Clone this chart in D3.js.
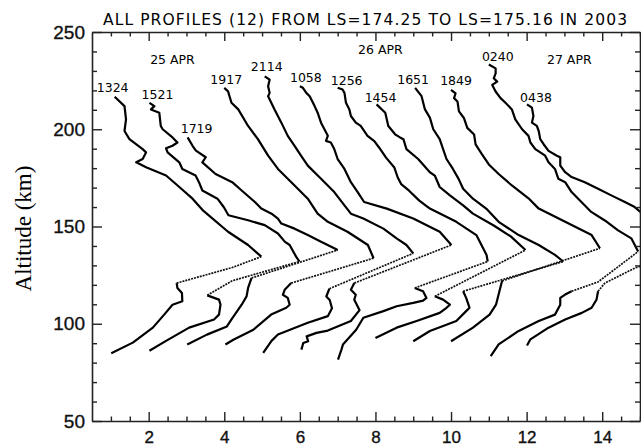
<!DOCTYPE html>
<html>
<head>
<meta charset="utf-8">
<script src="https://cdn.jsdelivr.net/npm/d3@7"></script>
<style>
  body { margin: 0; background: #fff; }
  svg { display: block; }
</style>
</head>
<body>
<svg id="chart" width="641" height="447"></svg>
<script>
// ---- data: electron-density profiles, each shifted right by its offset ----
const times   = ["1324","1521","1719","1917","2114","1058","1256","1454","1651","1849","0240","0438"];
const offsets = [1,2,3,4,5,6,7,8,9,10,11,12];
const dates   = ["25 APR","26 APR","27 APR"];
const dateX   = [2.63, 8.13, 13.13];
const dateAlt = [233.7, 238.8, 233.7];
const xTicks  = [2,4,6,8,10,12,14];
const yTicks  = [50,100,150,200,250];

// [density, altitude km], bottom to top
const p1324 = [[0.01,84.8],[0.58,90.3],[1.11,98.0],[1.41,104.7],[1.63,109.8],[1.89,111.6],[1.88,115.8],[1.76,118.4],[1.74,120.9],[3.21,128.9],[3.98,134.5],[3.63,140.5],[3.1,147.3],[2.45,158.0],[2.16,164.3],[1.81,170.3],[1.46,176.2],[0.93,180.5],[0.67,183.0],[0.84,184.7],[0.93,188.1],[0.84,189.8],[0.49,194.9],[0.36,199.1],[0.4,205.1],[0.36,211.9],[0.1,216.7]];
const p1521 = [[0.02,86.1],[0.46,91.2],[1.07,98.0],[1.73,102.2],[1.86,104.7],[1.9,109.8],[1.86,112.4],[1.55,114.6],[2.21,122.1],[3.99,132.0],[3.9,134.5],[3.73,140.5],[3.6,142.2],[3.42,146.4],[3.07,150.7],[2.63,153.2],[2.11,155.8],[1.99,159.9],[1.82,164.3],[1.42,168.5],[1.33,172.8],[1.24,176.2],[0.89,179.6],[0.81,183.0],[0.5,188.1],[0.46,190.2],[0.63,191.5],[0.76,193.2],[0.63,195.8],[0.37,200.0],[0.32,201.7],[0.28,208.5],[0.06,210.2],[0.15,211.9],[0.02,213.6]];
const p1719 = [[0.02,89.3],[0.54,94.4],[1.07,98.6],[1.2,102.5],[1.46,109.8],[1.59,114.1],[1.63,118.4],[1.72,123.5],[4.0,137.9],[3.91,138.8],[3.56,142.2],[3.21,145.6],[2.86,148.9],[2.51,151.5],[2.42,154.1],[2.25,156.6],[1.98,159.2],[1.81,162.6],[1.46,168.5],[1.21,172.8],[0.77,177.0],[0.42,183.0],[0.51,185.6],[0.25,189.0],[0.16,191.5],[0.03,195.8]];
const p1917 = [[0.03,89.3],[0.24,91.8],[0.77,96.9],[1.24,104.7],[1.64,108.2],[1.73,109.8],[1.68,113.3],[1.55,114.9],[1.6,117.5],[1.77,120.9],[3.95,133.7],[3.8,140.5],[3.26,147.3],[2.74,152.4],[2.47,156.6],[2.21,164.3],[1.86,171.1],[1.42,179.6],[1.16,186.4],[0.89,194.9],[0.63,201.7],[0.37,210.2],[0.19,213.6],[0.1,219.5],[0.0,221.3]];
const p2114 = [[0.03,85.0],[0.25,91.2],[0.42,94.5],[1.21,100.5],[1.74,103.9],[1.85,108.0],[1.79,112.2],[1.7,114.0],[1.78,118.0],[4.0,136.2],[3.82,140.5],[3.56,143.9],[3.21,148.9],[2.68,154.1],[2.35,156.6],[2.18,160.9],[1.91,167.7],[1.56,174.5],[1.21,181.3],[1.03,186.4],[0.86,191.5],[0.68,196.6],[0.51,203.4],[0.33,210.2],[0.16,217.0],[0.2,218.7],[0.16,222.1],[0.2,225.5],[0.07,227.2]];
const p1058 = [[0.04,86.7],[0.09,90.1],[0.22,91.0],[0.18,93.5],[0.44,95.3],[0.74,96.5],[1.35,101.4],[1.58,107.0],[1.44,112.4],[1.48,114.9],[1.35,117.5],[1.44,120.9],[4.01,140.5],[3.7,147.3],[3.0,154.1],[2.3,159.2],[1.7,162.6],[1.53,167.7],[1.35,172.8],[1.18,179.6],[1.0,184.7],[0.91,189.8],[0.82,193.2],[0.69,194.0],[0.74,196.6],[0.65,200.0],[0.56,203.4],[0.47,208.5],[0.39,211.9],[0.26,217.0],[0.17,218.7],[0.08,221.3],[0.0,222.1]];
const p1256 = [[0.01,81.6],[0.1,86.7],[0.14,89.3],[0.49,96.9],[0.68,103.1],[1.21,106.5],[1.56,109.0],[2.0,110.7],[2.26,111.9],[2.35,113.3],[2.26,116.7],[2.04,118.4],[3.97,132.0],[3.94,135.4],[3.67,145.6],[3.14,152.4],[2.44,159.2],[2.16,163.3],[1.89,168.4],[1.68,171.8],[1.59,175.2],[1.5,180.3],[1.28,185.4],[1.1,190.5],[0.97,193.9],[0.79,196.6],[0.61,201.7],[0.48,203.4],[0.35,206.8],[0.31,210.2],[0.22,213.6],[0.18,218.7],[0.13,220.4],[0.0,221.3]];
const p1454 = [[0.0,92.7],[0.56,98.0],[1.09,101.4],[1.7,105.6],[1.88,108.2],[1.97,109.8],[1.79,112.4],[1.57,114.1],[3.97,137.9],[3.58,144.9],[3.13,150.5],[2.58,156.6],[2.32,160.9],[1.97,166.0],[1.7,170.3],[1.57,176.2],[1.44,177.9],[1.13,184.7],[0.82,189.8],[0.74,194.9],[0.65,195.8],[0.52,197.4],[0.34,201.7],[0.26,208.5],[0.03,212.8]];
const p1651 = [[0.0,91.0],[0.44,96.3],[1.14,101.4],[1.4,106.5],[1.49,108.2],[1.4,113.3],[1.32,116.7],[3.97,132.0],[3.75,135.4],[3.32,140.5],[2.79,145.6],[2.26,152.4],[1.93,159.2],[1.58,164.3],[1.32,169.4],[1.2,174.5],[1.05,179.6],[0.88,184.7],[0.79,189.8],[0.7,194.9],[0.53,200.0],[0.44,206.0],[0.31,210.2],[0.22,217.0],[0.05,221.3]];
const p1849 = [[0.0,91.0],[0.58,98.0],[1.02,104.7],[1.19,109.8],[1.28,116.7],[1.35,122.0],[3.94,138.8],[3.72,145.6],[3.02,152.4],[2.32,159.2],[2.05,164.5],[1.61,171.1],[1.26,177.0],[1.0,181.9],[0.82,187.1],[0.65,192.2],[0.61,197.3],[0.43,200.7],[0.34,205.8],[0.21,209.2],[0.17,214.3],[0.08,216.0],[0.12,218.5],[0.0,220.3]];
const p0240 = [[0.05,83.3],[0.26,89.4],[0.79,96.3],[1.32,101.4],[1.75,104.7],[1.89,109.8],[1.89,113.3],[2.02,115.0],[2.19,116.7],[2.89,121.5],[3.95,137.1],[3.77,143.9],[3.42,148.0],[3.07,153.1],[2.71,157.5],[2.45,162.6],[2.19,167.7],[2.02,172.8],[1.84,174.5],[1.75,179.6],[1.58,183.0],[1.49,186.4],[1.23,189.8],[1.1,193.2],[1.05,196.6],[0.88,200.0],[0.7,205.1],[0.61,210.2],[0.44,213.6],[0.31,216.0],[0.18,219.4],[0.09,222.8],[0.22,224.5],[0.13,226.2],[0.18,228.7],[0.18,231.3],[0.0,233.3]];
const p0438 = [[0.01,88.8],[0.1,92.0],[0.58,98.0],[1.02,102.2],[1.46,105.6],[1.72,108.2],[1.85,112.4],[1.89,116.7],[2.07,120.9],[2.42,124.3],[2.86,128.6],[4.0,136.0],[3.6,146.0],[3.1,156.0],[2.86,160.0],[2.6,162.6],[2.24,166.0],[1.89,169.4],[1.54,172.8],[1.19,175.4],[1.02,177.9],[0.89,181.3],[0.89,185.6],[0.8,186.4],[0.58,188.9],[0.45,192.3],[0.36,194.9],[0.32,199.1],[0.27,201.7],[0.14,203.4],[0.18,206.8],[0.14,211.1],[0.01,212.8]];

const profiles = [p1324,p1521,p1719,p1917,p2114,p1058,p1256,p1454,p1651,p1849,p0240,p0438];
// index range of the sparsely sampled stretch between the lower layer and the main peak
const sparseSpan = [[8,10],[7,9],[7,8],[9,10],[8,9],[11,12],[11,12],[7,8],[6,7],[5,6],[8,10],[7,11]];

// ---- layout ----
const M = { left: 92, right: 640, top: 32, bottom: 421 };
const labelNudge = [[-2,-5],[8,-4],[9,-4],[2,-4],[2,-5],[6,-4],[9,-3],[4,-2],[-2,-4],[5,-5],[9,-3],[9,-2]];

const svg = d3.select("#chart");
const x = d3.scaleLinear().domain([0.5, 15]).range([M.left, M.right]);
const y = d3.scaleLinear().domain([50, 250]).range([M.bottom, M.top]);

const sans = "'DejaVu Sans', sans-serif";
const tickFont = "'Liberation Sans', Arial, sans-serif";

// title
svg.append("text")
  .attr("x", 103).attr("y", 25)
  .attr("textLength", 524).attr("lengthAdjust", "spacing")
  .style("font-family", sans).style("font-size", "15.5px")
  .text("ALL PROFILES (12) FROM LS=174.25 TO LS=175.16 IN 2003");

// clip to plot frame
svg.append("clipPath").attr("id", "plotclip")
  .append("rect").attr("x", M.left).attr("y", M.top)
  .attr("width", M.right - M.left).attr("height", M.bottom - M.top);

const plot = svg.append("g").attr("clip-path", "url(#plotclip)");

profiles.forEach((prof, i) => {
  const off = offsets[i];
  const line = d3.line().x(p => x(off + p[0])).y(p => y(p[1]));
  const [s, e] = sparseSpan[i];
  plot.append("path").datum(prof.slice(0, s + 1))
    .attr("d", line).attr("fill", "none").attr("stroke", "#000")
    .attr("stroke-width", 2.2).attr("stroke-linejoin", "round");
  plot.append("path").datum(prof.slice(s, e + 1))
    .attr("d", line).attr("fill", "none").attr("stroke", "#111")
    .attr("stroke-width", 1.7).attr("stroke-dasharray", "2 1");
  plot.append("path").datum(prof.slice(e))
    .attr("d", line).attr("fill", "none").attr("stroke", "#000")
    .attr("stroke-width", 2.2).attr("stroke-linejoin", "round");
});

// profile time labels above each profile top
profiles.forEach((prof, i) => {
  const top = prof[prof.length - 1];
  svg.append("text")
    .attr("x", x(offsets[i] + top[0]) + labelNudge[i][0])
    .attr("y", y(top[1]) + labelNudge[i][1])
    .attr("text-anchor", "middle")
    .style("font-family", sans).style("font-size", "12.5px")
    .text(times[i]);
});

// date labels
dates.forEach((d, i) => {
  svg.append("text")
    .attr("x", x(dateX[i])).attr("y", y(dateAlt[i]))
    .attr("text-anchor", "middle")
    .style("font-family", sans).style("font-size", "12.5px")
    .text(d);
});

// ---- axes ----
const axisColor = "#222";
const minorX = d3.range(1, 15.01, 0.5).filter(v => !xTicks.includes(v));
const minorY = d3.range(60, 250, 10).filter(v => !yTicks.includes(v));

function styleAxis(g) {
  g.select(".domain").attr("stroke", axisColor).attr("stroke-width", 1.6);
  g.selectAll(".tick line").attr("stroke", axisColor).attr("stroke-width", 1.4);
}
function styleLabels(size) {
  return g => g.selectAll("text")
    .style("font-family", tickFont).style("font-size", size)
    .attr("fill", "#111").attr("stroke", "#111").attr("stroke-width", 0.35);
}

// bottom
svg.append("g").attr("transform", `translate(0,${M.bottom})`)
  .call(d3.axisBottom(x).tickValues(xTicks).tickFormat(d3.format("d")).tickSizeInner(-9).tickSizeOuter(0).tickPadding(10))
  .call(styleAxis).call(styleLabels("17px"));
svg.append("g").attr("transform", `translate(0,${M.bottom})`)
  .call(d3.axisBottom(x).tickValues(minorX).tickFormat("").tickSizeInner(-4.5).tickSizeOuter(0))
  .call(styleAxis).call(g => g.select(".domain").remove());

// top
svg.append("g").attr("transform", `translate(0,${M.top})`)
  .call(d3.axisTop(x).tickValues(xTicks).tickFormat("").tickSizeInner(-9).tickSizeOuter(0))
  .call(styleAxis);
svg.append("g").attr("transform", `translate(0,${M.top})`)
  .call(d3.axisTop(x).tickValues(minorX).tickFormat("").tickSizeInner(-4.5).tickSizeOuter(0))
  .call(styleAxis).call(g => g.select(".domain").remove());

// left
svg.append("g").attr("transform", `translate(${M.left},0)`)
  .call(d3.axisLeft(y).tickValues(yTicks).tickFormat(d3.format("d")).tickSizeInner(-10).tickSizeOuter(0).tickPadding(7))
  .call(styleAxis).call(styleLabels("19px"));
svg.append("g").attr("transform", `translate(${M.left},0)`)
  .call(d3.axisLeft(y).tickValues(minorY).tickFormat("").tickSizeInner(-5).tickSizeOuter(0))
  .call(styleAxis).call(g => g.select(".domain").remove());

// right
svg.append("g").attr("transform", `translate(${M.right},0)`)
  .call(d3.axisRight(y).tickValues(yTicks).tickFormat("").tickSizeInner(-10).tickSizeOuter(0))
  .call(styleAxis);
svg.append("g").attr("transform", `translate(${M.right},0)`)
  .call(d3.axisRight(y).tickValues(minorY).tickFormat("").tickSizeInner(-5).tickSizeOuter(0))
  .call(styleAxis).call(g => g.select(".domain").remove());

// y-axis title
svg.append("text")
  .attr("transform", `translate(31,${(M.top + M.bottom) / 2 + 2}) rotate(-90)`)
  .attr("text-anchor", "middle")
  .style("font-family", "'Liberation Serif', 'Times New Roman', serif").style("font-size", "23px")
  .text("Altitude  (km)");
</script>
</body>
</html>
